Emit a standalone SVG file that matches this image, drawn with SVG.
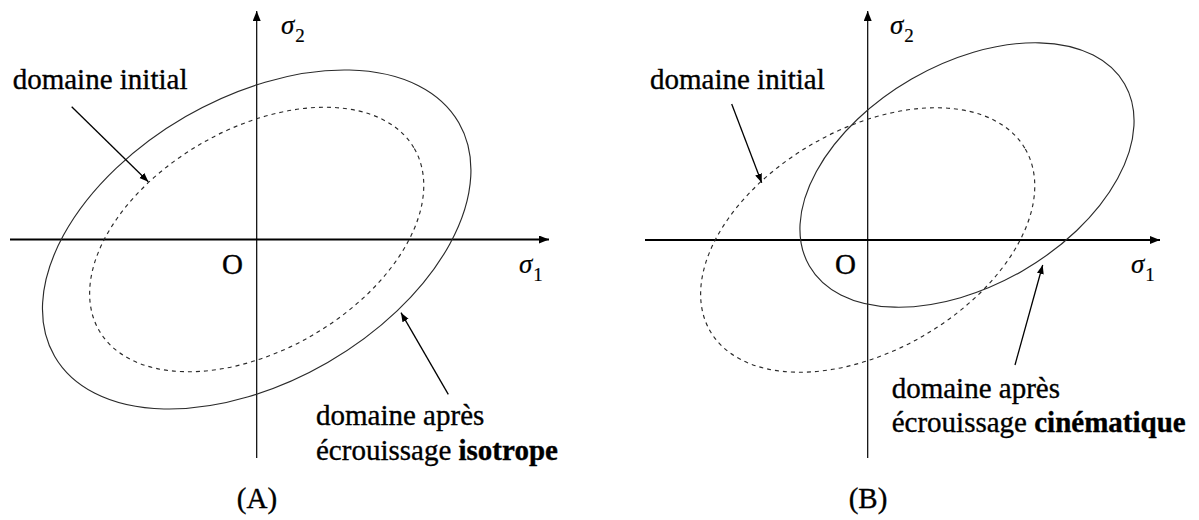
<svg xmlns="http://www.w3.org/2000/svg" width="1199" height="520" viewBox="0 0 1199 520">
<defs>
<style>
text{font-family:"Liberation Serif","Times New Roman",serif;font-size:29px;fill:#000;stroke:#000;stroke-width:0.35}
.sig{font-size:27px;font-style:italic;stroke-width:0.2}
.sub{font-size:19px;font-style:normal}
.b{font-weight:bold}
.axis{stroke:#000;fill:none}
.solid{fill:none;stroke:#2a2a2a;stroke-width:1.15}
.dash{fill:none;stroke:#2a2a2a;stroke-width:1.15;stroke-dasharray:4 4}
.ptr{stroke:#000;stroke-width:1.3;fill:none;marker-end:url(#ah)}
</style>
<marker id="ax" markerUnits="userSpaceOnUse" markerWidth="11" markerHeight="9" refX="10" refY="4" orient="auto"><path d="M0,0 L10,4 L0,8 z" fill="#000"/></marker>
<marker id="ah" markerUnits="userSpaceOnUse" markerWidth="10" markerHeight="8" refX="9" refY="3.5" orient="auto"><path d="M0,0 L9,3.5 L0,7 z" fill="#000"/></marker>
</defs>
<rect width="1199" height="520" fill="#fff"/>

<g id="axes-a">
<line class="axis" x1="10" y1="239.5" x2="549" y2="239.5" stroke-width="2" marker-end="url(#ax)"/>
<line class="axis" x1="256.7" y1="458" x2="256.7" y2="11" stroke-width="1.2" marker-end="url(#ax)"/>
<text x="222" y="274">O</text>
<text class="sig" x="519" y="273">σ<tspan class="sub" dx="1" dy="8">1</tspan></text>
<text class="sig" x="281" y="34">σ<tspan class="sub" dx="1" dy="8">2</tspan></text>
</g>
<g id="domain-a-initial">
<ellipse class="dash" cx="256.7" cy="239.5" rx="182" ry="110.8" transform="rotate(-30 256.7 239.5)"/>
<text x="12.7" y="89.3">domaine initial</text>
</g>
<g id="domain-a-isotrope">
<ellipse class="solid" cx="256.7" cy="239.5" rx="233.4" ry="142" transform="rotate(-30 256.7 239.5)"/>
<text x="316" y="425">domaine après</text>
<text x="316" y="459.5">écrouissage <tspan class="b">isotrope</tspan></text>
</g>
<g id="label-a"><text x="257" y="508" text-anchor="middle">(A)</text></g>

<g id="axes-b">
<line class="axis" x1="645" y1="240" x2="1160" y2="240" stroke-width="2" marker-end="url(#ax)"/>
<line class="axis" x1="867.7" y1="458" x2="867.7" y2="11" stroke-width="1.2" marker-end="url(#ax)"/>
<text x="835" y="274">O</text>
<text class="sig" x="1131" y="273">σ<tspan class="sub" dx="1" dy="8">1</tspan></text>
<text class="sig" x="890" y="34">σ<tspan class="sub" dx="1" dy="8">2</tspan></text>
</g>
<g id="domain-b-initial">
<ellipse class="dash" cx="867.7" cy="240" rx="182" ry="110.8" transform="rotate(-30 867.7 240)"/>
<text x="650" y="89.3">domaine initial</text>
</g>
<g id="domain-b-cinematique">
<ellipse class="solid" cx="967" cy="175" rx="182" ry="110.8" transform="rotate(-30 967 175)"/>
<text x="891.7" y="398.3">domaine après</text>
<text x="891.7" y="431.7">écrouissage <tspan class="b">cinématique</tspan></text>
</g>
<g id="label-b"><text x="868" y="508" text-anchor="middle">(B)</text></g>

<g id="connectors">
<line class="ptr" x1="71.7" y1="106.7" x2="148.3" y2="181.7"/>
<line class="ptr" x1="448.3" y1="394.3" x2="401" y2="312.7"/>
<line class="ptr" x1="731.7" y1="104" x2="761.7" y2="182.7"/>
<line class="ptr" x1="1015" y1="365" x2="1042.7" y2="265"/>
</g>
</svg>
